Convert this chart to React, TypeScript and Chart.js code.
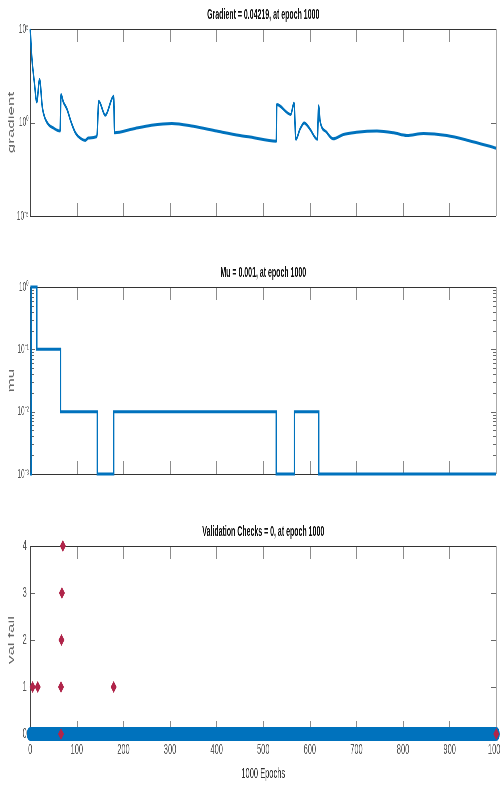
import React, { useEffect, useRef } from 'react';
import { Chart, registerables } from 'chart.js';

Chart.register(...registerables);

// ---------- data ----------
const gradEpochs = [0, 3, 9, 14, 20, 26, 32, 39, 50, 64, 66, 71, 79, 88, 97, 108, 118, 125, 143, 147, 161, 179, 181, 220, 260, 304, 350, 400, 450, 472, 528, 529, 559, 566, 570, 579, 588, 600, 616, 619, 622, 635, 650, 672, 700, 744, 780, 808, 844, 894, 940, 1000];
const gradValues = [1e5, 4.0e3, 126, 12.6, 200, 6.3, 1.6, 0.79, 0.5, 0.35, 31.6, 12.6, 5.0, 1.0, 0.28, 0.14, 0.11, 0.15, 0.18, 13.8, 2.45, 25.7, 0.28, 0.45, 0.71, 0.89, 0.63, 0.35, 0.2, 0.166, 0.1, 9.1, 2.7, 11.2, 0.126, 0.45, 0.95, 0.45, 0.126, 7.9, 1.17, 0.32, 0.135, 0.23, 0.3, 0.35, 0.28, 0.2, 0.26, 0.2, 0.11, 0.04219];

const muEpochs = [0, 2, 14, 65, 144, 179, 528, 567, 619, 1000];
const muValues = [0.001, 1, 0.1, 0.01, 0.001, 0.01, 0.001, 0.01, 0.001, 0.001];

const valBaseEpochs = [0, 1000];
const valBaseValues = [0, 0];
const valMarkEpochs = [5, 16, 66, 67, 68, 70, 66, 179, 1000];
const valMarkValues = [1, 1, 1, 2, 3, 4, 0, 1, 0];

const gradTicks = [1e-5, 1, 1e5];
const gradTickLabels = ['10⁻⁵', '10⁰', '10⁵'];
const muTicks = [1e-3, 1e-2, 1e-1, 1];
const muTickLabels = ['10⁻³', '10⁻²', '10⁻¹', '10⁰'];
const valTicks = [0, 1, 2, 3, 4];
const valTickLabels = ['0', '1', '2', '3', '4'];
const epochTickLabels = ['0', '100', '200', '300', '400', '500', '600', '700', '800', '900', '1000'];

const titles = ['Gradient = 0.04219, at epoch 1000', 'Mu = 0.001, at epoch 1000', 'Validation Checks = 0, at epoch 1000'];
const yTitles = ['gradient', 'mu', 'val fail'];
const xTitle = '1000 Epochs';

// ---------- style ----------
const FONT = "'Liberation Sans', Arial, Helvetica, sans-serif";
const BLUE = '#0072BD';
const RED = '#B0254A';
const W = 1020; // unscaled canvas width (displayed at scaleX 0.5)

const frame = {
  id: 'frame',
  beforeDatasetsDraw(chart: any, _args: any, opts: any) {
    const { ctx, chartArea: a, scales } = chart;
    const x = scales.x;
    const y = scales.y;
    const hl = (x1: number, x2: number, yy: number) => {
      const py = Math.round(yy) + 0.5;
      ctx.beginPath(); ctx.moveTo(x1, py); ctx.lineTo(x2, py); ctx.stroke();
    };
    const vl = (xx: number, y1: number, y2: number) => {
      const px = Math.round(xx / 2) * 2;
      ctx.beginPath(); ctx.moveTo(px, y1); ctx.lineTo(px, y2); ctx.stroke();
    };
    ctx.save();
    ctx.strokeStyle = '#8c8c8c';
    ctx.lineWidth = 2;
    for (const t of x.ticks) {
      if (t.value <= x.min || t.value >= x.max) continue;
      const px = x.getPixelForValue(t.value);
      vl(px, a.top, a.top + 13);
      vl(px, a.bottom, a.bottom - 13);
    }
    ctx.strokeStyle = '#666';
    ctx.lineWidth = 1;
    for (const t of y.ticks) {
      const py = y.getPixelForValue(t.value);
      if (py <= a.top + 1 || py >= a.bottom - 1) continue;
      hl(a.left, a.left + 10, py);
      hl(a.right - 10, a.right, py);
    }
    for (const v of (opts.minor || [])) {
      const py = y.getPixelForValue(v);
      if (py <= a.top + 1 || py >= a.bottom - 1) continue;
      hl(a.left, a.left + 7, py);
      hl(a.right - 7, a.right, py);
    }
    ctx.strokeStyle = '#333';
    ctx.lineWidth = 1;
    hl(a.left, a.right, a.top);
    hl(a.left, a.right, a.bottom);
    ctx.lineWidth = 2;
    ctx.strokeStyle = '#444';
    vl(a.left, a.top, a.bottom);
    ctx.strokeStyle = '#aaa';
    vl(a.right, a.top, a.bottom);
    ctx.restore();
  },
};

function makeOptions(p: {
  title: string; yTitle: string; yType: string; yMin: number; yMax: number;
  yTicks: number[]; yLabels: string[]; showX: boolean; xHeight: number; minor?: number[]; yPad: number; yTickSize: number;
}) {
  return {
    responsive: false,
    animation: false,
    events: [],
    layout: { padding: { left: 0, right: 28, top: 0, bottom: 0 } },
    plugins: {
      legend: { display: false },
      tooltip: { enabled: false },
      title: {
        display: true, text: p.title, fullSize: false, color: '#111',
        font: { family: FONT, size: 14, weight: 'bold', lineHeight: 1.2 },
        padding: { top: 7, bottom: 5.2 },
      },
      frame: { minor: p.minor || [] },
    },
    scales: {
      x: {
        type: 'linear', min: 0, max: 1000,
        ticks: {
          stepSize: 100, display: p.showX, padding: 7, autoSkip: false, maxRotation: 0, color: '#555',
          font: { family: FONT, size: 15 },
          callback: (_v: any, i: number) => epochTickLabels[i],
        },
        grid: { display: false, drawTicks: false },
        border: { display: false },
        title: { display: p.showX, text: xTitle, color: '#333', font: { family: FONT, size: 15, lineHeight: 1.2 }, padding: { top: 0, bottom: 6 } },
        afterFit: (s: any) => { s.height = p.xHeight; },
      },
      y: {
        type: p.yType, min: p.yMin, max: p.yMax,
        afterBuildTicks: (s: any) => { s.ticks = p.yTicks.map((v) => ({ value: v })); },
        ticks: { callback: (_v: any, i: number) => p.yLabels[i], padding: p.yPad, color: '#555', font: { family: FONT, size: p.yTickSize } },
        grid: { display: false, drawTicks: false },
        border: { display: false },
        title: { display: true, text: p.yTitle, color: '#6a6a6a', font: { family: FONT, size: 17, lineHeight: 1.2 }, padding: { top: 12, bottom: 0 } },
        afterFit: (s: any) => { s.width = 60; },
      },
    },
  };
}

const muMinor: number[] = [];
[1e-3, 1e-2, 1e-1].forEach((d) => { for (let k = 2; k <= 9; k++) muMinor.push(d * k); });

function buildConfigs() {
  const grad = {
    type: 'line',
    data: {
      datasets: [{
        data: gradEpochs.map((e, i) => ({ x: e, y: gradValues[i] })),
        borderColor: BLUE, borderWidth: 3, pointRadius: 0, cubicInterpolationMode: 'monotone', clip: false,
      }],
    },
    options: makeOptions({ title: titles[0], yTitle: yTitles[0], yType: 'logarithmic', yMin: 1e-5, yMax: 1e5, yTicks: gradTicks, yLabels: gradTickLabels, showX: false, xHeight: 24, yPad: 3, yTickSize: 13 }),
    plugins: [frame],
  };
  const mu = {
    type: 'line',
    data: {
      datasets: [{
        data: muEpochs.map((e, i) => ({ x: e, y: muValues[i] })),
        borderColor: BLUE, borderWidth: 3, pointRadius: 0, stepped: 'before', clip: false,
      }],
    },
    options: makeOptions({ title: titles[1], yTitle: yTitles[1], yType: 'logarithmic', yMin: 1e-3, yMax: 1, yTicks: muTicks, yLabels: muTickLabels, showX: false, xHeight: 24, minor: muMinor, yPad: 3, yTickSize: 13 }),
    plugins: [frame],
  };
  const val = {
    type: 'line',
    data: {
      datasets: [
        {
          data: valMarkEpochs.map((e, i) => ({ x: e, y: valMarkValues[i] })),
          showLine: false, pointStyle: 'rectRot', pointRadius: 6, backgroundColor: RED, borderColor: RED, borderWidth: 0, clip: false,
        },
        {
          data: valBaseEpochs.map((e, i) => ({ x: e, y: valBaseValues[i] })),
          borderColor: BLUE, borderWidth: 14, borderCapStyle: 'round', pointRadius: 0, clip: false,
        },
      ],
    },
    options: makeOptions({ title: titles[2], yTitle: yTitles[2], yType: 'linear', yMin: 0, yMax: 4, yTicks: valTicks, yLabels: valTickLabels, showX: true, xHeight: 55, yPad: 7, yTickSize: 15 }),
    plugins: [frame],
  };
  return [grad, mu, val];
}

function Panel({ top, height, config }: { top: number; height: number; config: any }) {
  const ref = useRef<HTMLCanvasElement | null>(null);
  useEffect(() => {
    if (!ref.current) return;
    const chart = new Chart(ref.current, config);
    return () => chart.destroy();
  }, [config]);
  return (
    <canvas
      ref={ref}
      width={W}
      height={height}
      style={{ position: 'absolute', left: 0, top, width: W, height }}
    />
  );
}

const configs = buildConfigs();

export default function App() {
  return (
    <div style={{ position: 'absolute', left: 0, top: 0, width: 500, height: 789, overflow: 'hidden', background: '#fff' }}>
      <div style={{ position: 'absolute', left: 0, top: 0, width: W, height: 789, transform: 'scaleX(0.5)', transformOrigin: '0 0' }}>
        <Panel top={0} height={240} config={configs[0]} />
        <Panel top={258} height={240} config={configs[1]} />
        <Panel top={517} height={272} config={configs[2]} />
      </div>
    </div>
  );
}
